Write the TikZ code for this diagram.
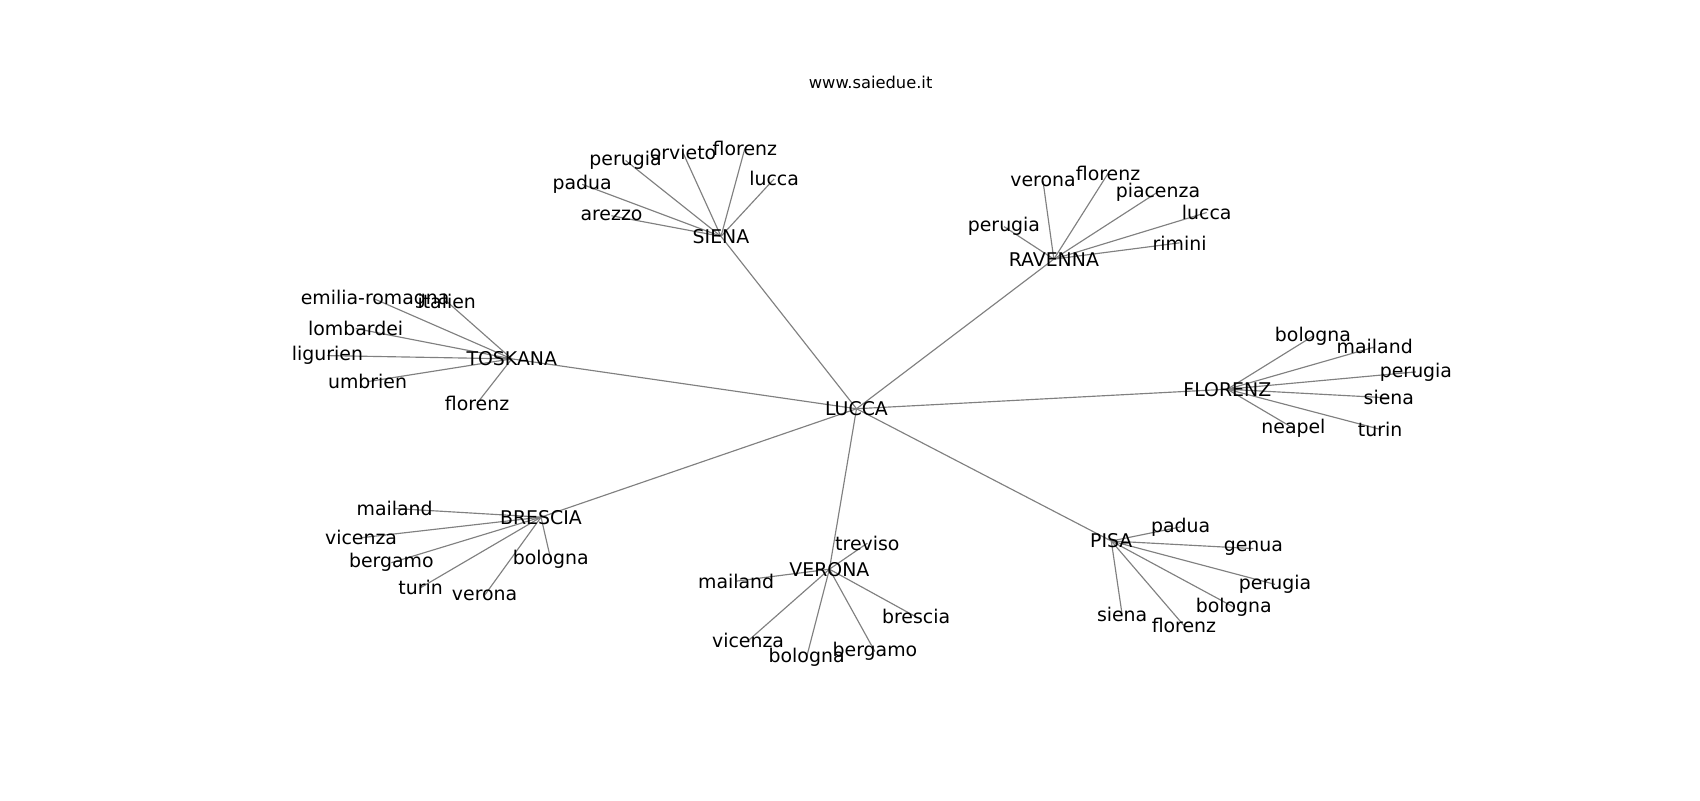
\documentclass[tikz,border=0pt]{standalone}
\usepackage{fontspec}
\setmainfont{DejaVu Sans}
\usetikzlibrary{backgrounds}

\tikzset{
  lbl/.style={inner sep=0pt, font=\fontsize{18.9}{21}\selectfont},
  edge/.style={draw=gray, line width=1.15pt}
}

\begin{document}
\begin{tikzpicture}[x=1.0842pt, y=-1.0842pt]
\useasboundingbox (0,0) rectangle (1568,738);
\node[inner sep=0pt, font=\fontsize{16.3}{19}\selectfont] (title) at (803,76) {www.saiedue.it};

% hubs
\node[lbl] (lu) at (790,377) {LUCCA};
\node[lbl] (si) at (665,218) {SIENA};
\node[lbl] (ra) at (972,239) {RAVENNA};
\node[lbl] (to) at (472,331) {TOSKANA};
\node[lbl] (fl) at (1132,359) {FLORENZ};
\node[lbl] (br) at (499,477) {BRESCIA};
\node[lbl] (ve) at (765,525) {VERONA};
\node[lbl] (pi) at (1025,499) {PISA};

% siena
\node[lbl] (si1) at (577,148) {perugia};
\node[lbl] (si2) at (630,141) {orvieto};
\node[lbl] (si3) at (687,137) {florenz};
\node[lbl] (si4) at (714,165) {lucca};
\node[lbl] (si5) at (537,170) {padua};
\node[lbl] (si6) at (564,199) {arezzo};

% ravenna
\node[lbl] (ra1) at (962,167) {verona};
\node[lbl] (ra2) at (1022,160) {florenz};
\node[lbl] (ra3) at (1068,177) {piacenza};
\node[lbl] (ra4) at (1113,196) {lucca};
\node[lbl] (ra5) at (1088,224) {rimini};
\node[lbl] (ra6) at (926,209) {perugia};

% toskana
\node[lbl] (to1) at (346,276) {emilia-romagna};
\node[lbl] (to2) at (412,278) {italien};
\node[lbl] (to3) at (328,303) {lombardei};
\node[lbl] (to4) at (302,328) {ligurien};
\node[lbl] (to5) at (339,352) {umbrien};
\node[lbl] (to6) at (440,372) {florenz};

% florenz
\node[lbl] (fl1) at (1211,310) {bologna};
\node[lbl] (fl2) at (1268,320) {mailand};
\node[lbl] (fl3) at (1306,343) {perugia};
\node[lbl] (fl4) at (1281,367) {siena};
\node[lbl] (fl5) at (1193,395) {neapel};
\node[lbl] (fl6) at (1273,396) {turin};

% brescia
\node[lbl] (br1) at (364,469) {mailand};
\node[lbl] (br2) at (333,496) {vicenza};
\node[lbl] (br3) at (361,519) {bergamo};
\node[lbl] (br4) at (388,542) {turin};
\node[lbl] (br5) at (447,549) {verona};
\node[lbl] (br6) at (508,516) {bologna};

% verona
\node[lbl] (ve1) at (800,501) {treviso};
\node[lbl] (ve2) at (679,536) {mailand};
\node[lbl] (ve3) at (690,591) {vicenza};
\node[lbl] (ve4) at (744,606) {bologna};
\node[lbl] (ve5) at (807,601) {bergamo};
\node[lbl] (ve6) at (845,569) {brescia};

% pisa
\node[lbl] (pi1) at (1089,486) {padua};
\node[lbl] (pi2) at (1156,506) {genua};
\node[lbl] (pi3) at (1176,539) {perugia};
\node[lbl] (pi4) at (1138,560) {bologna};
\node[lbl] (pi5) at (1092,577) {florenz};
\node[lbl] (pi6) at (1035,567) {siena};

\begin{pgfonlayer}{background}
\foreach \h in {si,ra,to,fl,br,ve,pi} {
  \draw[edge] (lu.center) -- (\h.center);
  \foreach \i in {1,...,6}
    \draw[edge] (\h.center) -- (\h\i.center);
}
\end{pgfonlayer}
\end{tikzpicture}
\end{document}
